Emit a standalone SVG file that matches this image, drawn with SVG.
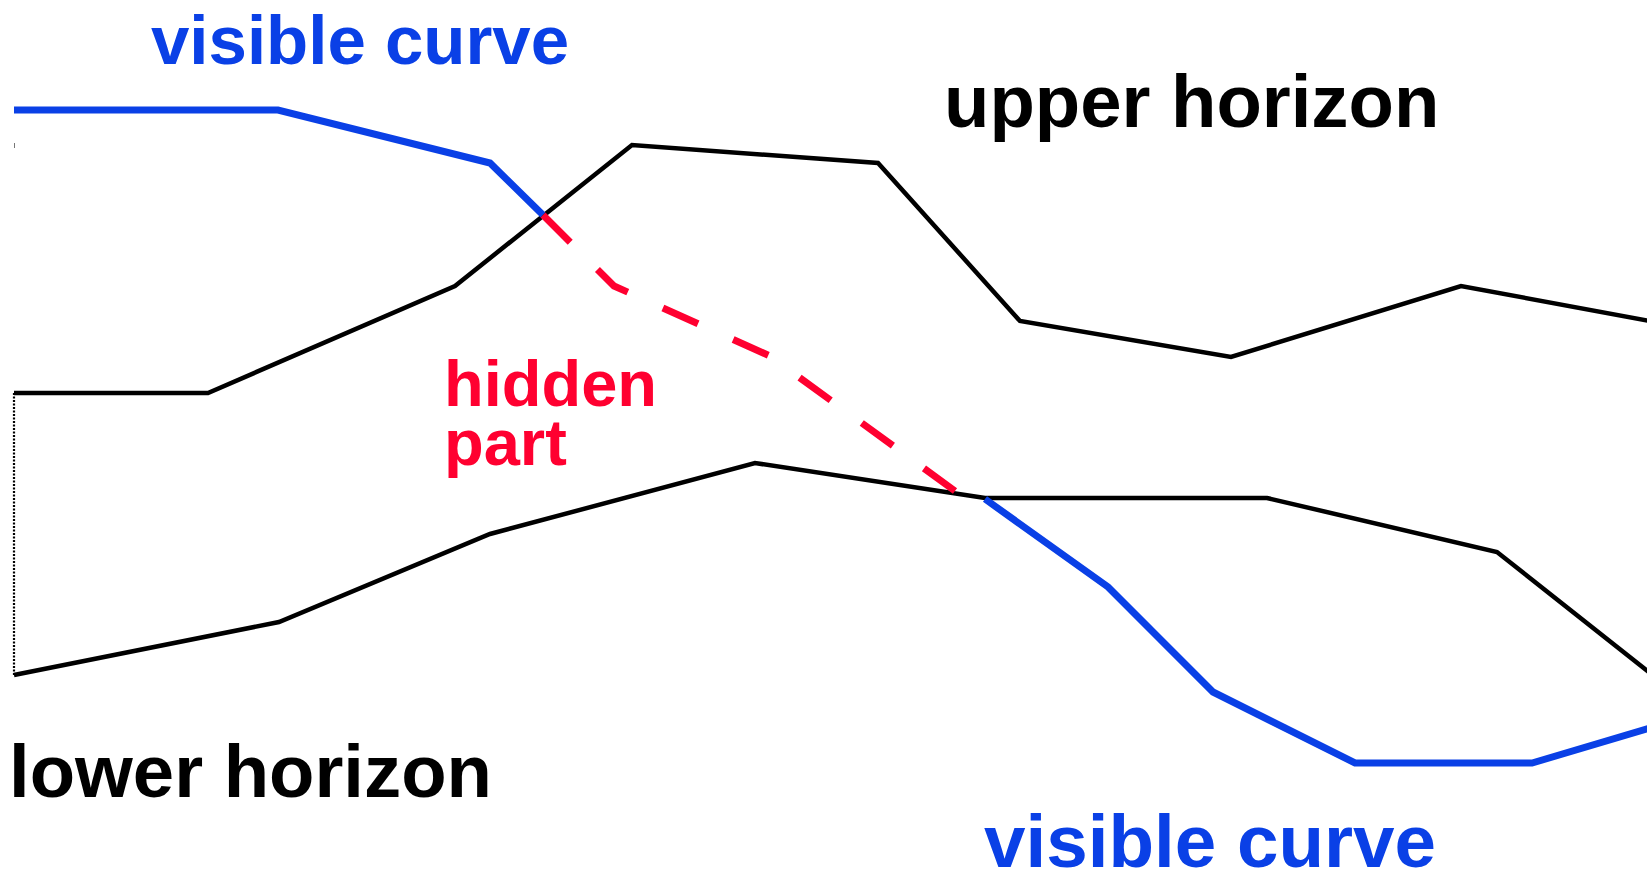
<svg xmlns="http://www.w3.org/2000/svg" width="1647" height="871" viewBox="0 0 1647 871">
<style>
.hz{fill:none;stroke:#000;stroke-width:4.5;stroke-linejoin:miter}
.vis{fill:none;stroke:#0a40e6;stroke-width:7;stroke-linejoin:miter}
.hid{fill:none;stroke:#ff0030;stroke-width:7;stroke-dasharray:38.5 38.5}
.lbl{font-family:"Liberation Sans",Arial,sans-serif;font-weight:bold}
</style>
<rect width="1647" height="871" fill="#fff"/>
<g id="connectors">
<g id="upper-horizon">
<polyline class="hz" points="14,393 208,393 455,286 632,145 878,163 1020,321 1231,357 1461,286 1650,321"/>
</g>
<g id="lower-horizon">
<polyline class="hz" points="14,675 279,622 490,534 755,463 985,498 1267,498 1497,552 1650,673"/>
</g>
<g id="edge">
<line x1="14" y1="393" x2="14" y2="675" stroke="#000" stroke-width="2.2" stroke-dasharray="2 1.5"/>
<line x1="14.5" y1="143" x2="14.5" y2="148" stroke="#777" stroke-width="1"/>
</g>
<g id="visible-curve-top">
<polyline class="vis" points="14,110 278,110 490,163 543,215"/>
</g>
<g id="hidden-curve">
<polyline class="hid" points="543,215 614,286 770,356 955,491"/>
</g>
<g id="visible-curve-bottom">
<polyline class="vis" points="985,499 1108,587 1213,692 1355,763 1532,763 1650,728"/>
</g>
</g>
<g id="label-visible-top"><text class="lbl" x="151" y="64" font-size="69" fill="#0a40e6">visible curve</text></g>
<g id="label-upper"><text class="lbl" x="944" y="127" font-size="74.3" fill="#000">upper horizon</text></g>
<g id="label-hidden"><text class="lbl" x="444" y="406" font-size="65" fill="#ff0030"><tspan x="444">hidden</tspan><tspan x="444" y="465">part</tspan></text></g>
<g id="label-lower"><text class="lbl" x="9" y="797" font-size="74.3" fill="#000">lower horizon</text></g>
<g id="label-visible-bottom"><text class="lbl" x="984" y="867" font-size="74.6" fill="#0a40e6">visible curve</text></g>
</svg>
